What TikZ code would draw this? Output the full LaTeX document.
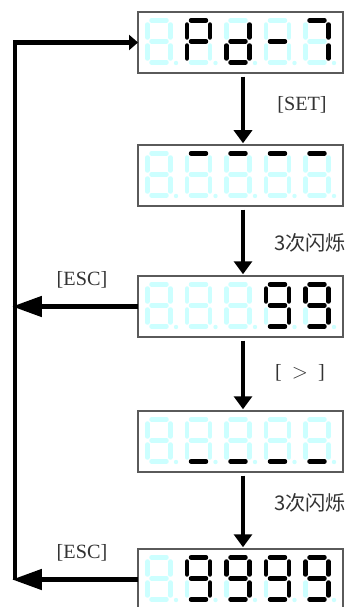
\documentclass[tikz,border=0pt]{standalone}
\usepackage{fontspec}
\setmainfont{Liberation Serif}
\newfontfamily\cjk{Noto Sans CJK SC}
\usetikzlibrary{positioning,calc,arrows.meta}
\definecolor{segcyan}{RGB}{204,255,255}
\definecolor{boxgray}{RGB}{90,90,90}
\tikzset{
  seg/.style={line width=2.55pt,line cap=round},
  dispbox/.style={draw=boxgray,line width=0.6pt,minimum width=4.1cm,minimum height=1.22cm,inner sep=0pt,outer sep=0pt},
  flow/.style={line width=2.8pt,-{Triangle[length=0.26cm,width=0.36cm]}},
  escflow/.style={line width=2.8pt,-{Triangle[length=0.6cm,width=0.4cm]}},
  lbl/.style={font=\fontsize{11.5}{12}\selectfont,text=black!80}
}
\makeatletter
\newcommand{\segdigit}[3]{%
  \begin{scope}[shift={(#1,#2)}]
    \foreach \s/\xa/\ya/\xb/\yb in {a/6.5/2.5/21.5/2.5,b/25.5/6.5/25.5/19.5,c/25.5/27.5/25.5/40.5,d/6.5/44.5/21.5/44.5,e/2.5/27.5/2.5/40.5,f/2.5/6.5/2.5/19.5,g/6.5/23.5/21.5/23.5}
      {\edef\segtest{\noexpand\in@{,\s,}{,#3,}}\segtest
       \ifin@\def\segcol{black}\else\def\segcol{segcyan}\fi
       \draw[seg,draw=\segcol] (\xa,\ya) -- (\xb,\yb);}
    \fill[segcyan] (31,45) circle (2.2);
  \end{scope}}
\makeatother
\newcommand{\digitrow}[6]{\segdigit{145}{#1}{#2}\segdigit{184.5}{#1}{#3}\segdigit{224}{#1}{#4}\segdigit{263.5}{#1}{#5}\segdigit{303}{#1}{#6}}
\begin{document}
\begin{tikzpicture}[x=0.02cm,y=-0.02cm]
  \path[fill=white,use as bounding box] (0,0) rectangle (350,607);
  \foreach \t/\n in {12/1,145/2,276/3,411/4,549/5}
    \node[dispbox] (disp\n) at (240.5,\t+30.5) {};
  \digitrow{18}{}{a,b,e,f,g}{b,c,d,e,g}{g}{a,b,c}
  \digitrow{151}{}{a}{a}{a}{a}
  \digitrow{282}{}{}{}{a,b,c,d,f,g}{a,b,c,d,f,g}
  \digitrow{417}{}{d}{d}{d}{d}
  \digitrow{555}{}{a,b,c,d,f,g}{a,b,c,d,f,g}{a,b,c,d,f,g}{a,b,c,d,f,g}
  \foreach \a/\b in {1/2,2/3,3/4,4/5}
    \draw[flow,shorten <=2pt,shorten >=1pt] ([xshift=0.05cm]disp\a.south) -- ([xshift=0.05cm]disp\b.north);
  \coordinate (lt) at (15,42.5);
  \coordinate (lx) at (12,0);
  \draw[line width=2.8pt,-{Triangle[length=0.18cm,width=0.3cm]}] (disp5.west -| lt) -- (lt) -- (disp1.west);
  \draw[escflow] (disp3.west) -- (disp3.west -| lx);
  \draw[escflow] (disp5.west) -- (disp5.west -| lx);
  \node[lbl] (setlbl) at (302,105) {[SET]};
  \node[lbl] (blink1) at (310,243) {\cjk 3次闪烁};
  \node[lbl] (nextlbl) at (300,373) {[\enspace$>$\enspace]};
  \node[lbl] (blink2) at (310,503) {\cjk 3次闪烁};
  \node[lbl] (esc1) at (82,280) {[ESC]};
  \node[lbl] (esc2) at (82,553) {[ESC]};
\end{tikzpicture}
\end{document}
